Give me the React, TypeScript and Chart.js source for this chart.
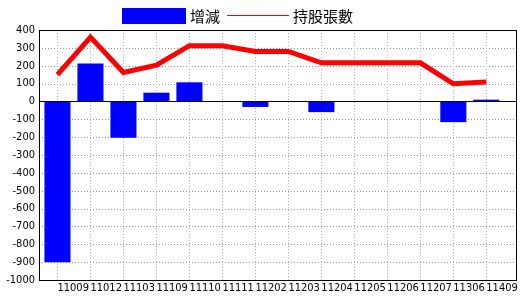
import React, { useEffect, useRef } from 'react';
import { Chart, registerables } from 'chart.js';

Chart.register(...registerables);

const categories = ['11009', '11012', '11103', '11109', '11110', '11111', '11202', '11203', '11204', '11205', '11206', '11207', '11306', '11409'];
const changeValues = [-900, 213, -204, 49, 107, 0, -31, 0, -60, 0, 0, 0, -116, 10];
const holdingValues = [150, 360, 162, 203, 312, 312, 280, 280, 216, 216, 216, 216, 99, 109];
const seriesNames = ['增減', '持股張數'];
const yMin = -1000;
const yMax = 400;
const yStep = 100;

const BAR_COLOR = '#0000ff';
const LINE_COLOR = '#ff0000';
const TICK_FONT = '"Liberation Sans Narrow", "DejaVu Sans Condensed", "Liberation Sans", sans-serif';
const CJK_FONT = '"Noto Sans CJK TC", "Noto Sans CJK SC", sans-serif';

const gridPlugin = {
  id: 'customGrid',
  beforeDatasetsDraw(chart: any) {
    const { ctx, chartArea } = chart;
    const { left, right, top, bottom } = chartArea;
    const xs = chart.scales.x;
    const ys = chart.scales.y;
    ctx.save();
    ctx.lineWidth = 1;
    ctx.setLineDash([1, 2]);
    ctx.strokeStyle = '#999999';
    ys.ticks.forEach((t: any) => {
      if (t.value === 0) return;
      const y = Math.round(ys.getPixelForValue(t.value)) + 0.5;
      ctx.beginPath();
      ctx.moveTo(left, y);
      ctx.lineTo(right, y);
      ctx.stroke();
    });
    ctx.strokeStyle = '#9db6cc';
    xs.ticks.forEach((t: any) => {
      const x = Math.round(xs.getPixelForValue(t.value)) + 0.5;
      ctx.beginPath();
      ctx.moveTo(x, top);
      ctx.lineTo(x, bottom);
      ctx.stroke();
    });
    ctx.restore();
  },
  afterDatasetsDraw(chart: any) {
    const { ctx, chartArea } = chart;
    const { left, right, top, bottom } = chartArea;
    const ys = chart.scales.y;
    ctx.save();
    ctx.lineWidth = 1;
    ctx.strokeStyle = '#000000';
    const y0 = Math.round(ys.getPixelForValue(0)) + 0.5;
    ctx.beginPath();
    ctx.moveTo(left, y0);
    ctx.lineTo(right, y0);
    ctx.stroke();
    ctx.strokeRect(Math.round(left) + 0.5, Math.round(top) + 0.5, Math.round(right - left), Math.round(bottom - top));
    ctx.restore();
  },
};

const legendPlugin = {
  id: 'customLegend',
  afterDraw(chart: any) {
    const { ctx } = chart;
    const ds = chart.data.datasets;
    ctx.save();
    ctx.font = '15px ' + CJK_FONT;
    ctx.textBaseline = 'middle';
    ctx.textAlign = 'left';
    let x = 122;
    const yMid = 16;
    ctx.fillStyle = BAR_COLOR;
    ctx.fillRect(x, 8, 64, 16);
    x += 68;
    ctx.fillStyle = '#000000';
    ctx.fillText(ds[0].label, x, yMid);
    x += ctx.measureText(ds[0].label).width + 7;
    ctx.fillStyle = LINE_COLOR;
    ctx.fillRect(Math.round(x), 15, 62, 1);
    x += 66;
    ctx.fillStyle = '#000000';
    ctx.fillText(ds[1].label, x, yMid);
    ctx.restore();
  },
};

export default function App() {
  const ref = useRef<HTMLCanvasElement | null>(null);
  useEffect(() => {
    if (!ref.current) return;
    const chart = new Chart(ref.current, {
      type: 'bar',
      data: {
        datasets: [
          {
            type: 'bar',
            label: seriesNames[0],
            data: changeValues.map((v, i) => ({ x: i, y: v })),
            backgroundColor: BAR_COLOR,
            borderWidth: 0,
            categoryPercentage: 1,
            barPercentage: 0.79,
            order: 1,
          } as any,
          {
            type: 'line',
            label: seriesNames[1],
            data: holdingValues.map((v, i) => ({ x: i, y: v })),
            borderColor: LINE_COLOR,
            backgroundColor: LINE_COLOR,
            borderWidth: 5,
            pointRadius: 0,
            tension: 0,
            order: 0,
          } as any,
        ],
      },
      options: {
        animation: false,
        responsive: false,
        layout: { padding: { top: 30, right: 4, left: 0, bottom: 0 } },
        plugins: { legend: { display: false }, tooltip: { enabled: false } },
        scales: {
          x: {
            type: 'linear',
            offset: false,
            min: -0.56,
            max: 13.9,
            bounds: 'data',
            grid: { display: false, drawTicks: false, offset: false },
            border: { display: false },
            afterBuildTicks: (s: any) => {
              s.ticks = categories.map((_, i) => ({ value: i }));
            },
            ticks: {
              autoSkip: false,
              maxRotation: 0,
              minRotation: 0,
              align: 'start',
              padding: 2,
              color: '#000000',
              font: { family: TICK_FONT, size: 11 },
              callback: (v: any) => categories[Math.round(Number(v))] ?? '',
            },
            afterFit: (s: any) => {
              s.height = 20;
              s.paddingLeft = 0;
              s.paddingRight = 0;
            },
          },
          y: {
            type: 'linear',
            min: yMin,
            max: yMax,
            grid: { display: false, drawTicks: false },
            border: { display: false },
            ticks: {
              stepSize: yStep,
              maxTicksLimit: 30,
              autoSkip: false,
              padding: 4,
              color: '#000000',
              font: { family: TICK_FONT, size: 11 },
              callback: (v: any) => String(v),
            },
            afterFit: (s: any) => {
              s.width = 39;
              s.paddingTop = 0;
              s.paddingBottom = 0;
            },
          },
        },
      } as any,
      plugins: [gridPlugin, legendPlugin],
    });
    return () => chart.destroy();
  }, []);
  return (
    <div style={{ position: 'absolute', left: 0, top: 0, width: 520, height: 300, background: '#ffffff' }}>
      <canvas ref={ref} width={520} height={300} />
    </div>
  );
}
